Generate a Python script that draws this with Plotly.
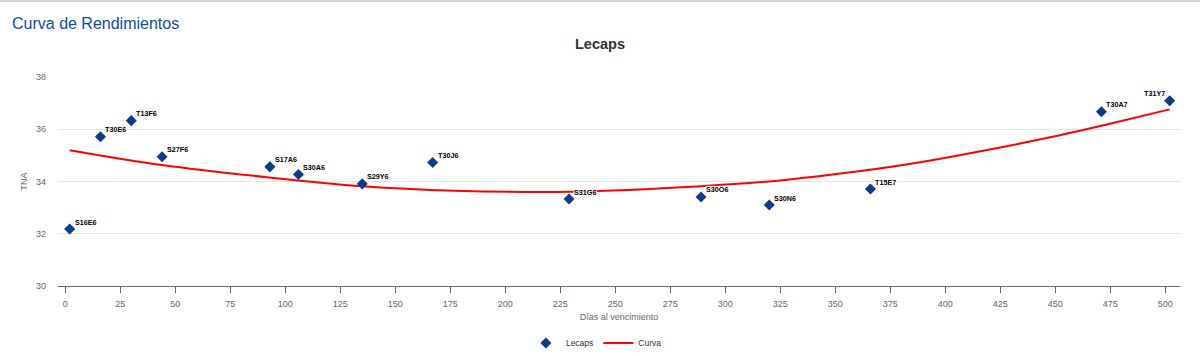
import plotly.graph_objects as go

# Lecaps data (days to maturity, TNA %)
tickers = ["S16E6", "T30E6", "T13F6", "S27F6", "S17A6", "S30A6", "S29Y6", "T30J6",
           "S31G6", "S30O6", "S30N6", "T15E7", "T30A7", "T31Y7"]
dias = [2, 16, 30, 44, 93, 106, 135, 167, 229, 289, 320, 366, 471, 502]
tna = [32.18, 35.71, 36.33, 34.95, 34.56, 34.27, 33.91, 34.73, 33.33, 33.41, 33.10, 33.71, 36.67, 37.09]
label_side = ["right"] * 13 + ["left"]

# Fitted curve
curva_x = [2, 44, 92, 135, 177, 230, 289, 326, 357, 380, 401, 425, 451, 472, 502]
curva_y = [35.20, 34.63, 34.16, 33.82, 33.65, 33.61, 33.82, 34.05, 34.35, 34.62, 34.92, 35.30, 35.75, 36.15, 36.76]

x_ticks = list(range(0, 501, 25))
y_ticks = [30, 32, 34, 36, 38]

W, H = 1200, 356
L, R, T, B = 58, 20, 77, 70
pw, ph = W - L - R, H - T - B
FONT = "Liberation Sans, Arial, sans-serif"

def px_x(p):
    return (p - L) / pw

def px_y(p):
    return (H - B - p) / ph

fig = go.Figure()

fig.add_trace(go.Scatter(
    x=curva_x, y=curva_y, mode="lines", name="Curva",
    line=dict(color="#ff0000", width=2, shape="spline", smoothing=1.0),
    hoverinfo="skip",
))

fig.add_trace(go.Scatter(
    x=dias, y=tna, mode="markers", name="Lecaps",
    marker=dict(symbol="diamond", size=8.5, color="#0b3c8c"),
))

halo = "1px 1px 1px #fff, -1px -1px 1px #fff, 1px -1px 1px #fff, -1px 1px 1px #fff"
annotations = []
for t, xv, yv, side in zip(tickers, dias, tna, label_side):
    annotations.append(dict(
        text=t, x=xv, y=yv, xref="x", yref="y", showarrow=False,
        xanchor="left" if side == "right" else "right", yanchor="middle",
        xshift=3 if side == "right" else -3, yshift=7,
        font=dict(family=FONT, size=7.2, color="#000000", weight="bold", shadow=halo),
    ))

annotations.append(dict(text="Curva de Rendimientos", xref="paper", yref="paper",
                        x=px_x(10), y=px_y(24), xanchor="left", yanchor="middle",
                        showarrow=False,
                        font=dict(family=FONT, size=16, color="#0e4c9e")))

fig.update_layout(
    width=W, height=H,
    margin=dict(l=L, r=R, t=T, b=B),
    paper_bgcolor="#ffffff", plot_bgcolor="#ffffff",
    font=dict(family=FONT, size=9, color="#666666"),
    title=dict(text="<b>Lecaps</b>", x=0.5, xanchor="center", xref="container",
               y=1 - 44 / H, yanchor="middle", yref="container",
               font=dict(size=14.5, color="#333333")),
    showlegend=True,
    legend=dict(orientation="h", x=0.497, xanchor="center", xref="container",
                y=1 - 343 / H, yanchor="middle", yref="container",
                font=dict(size=8.5, color="#333333"), traceorder="reversed"),
    xaxis=dict(range=[-3.3, 506.7], tickvals=x_ticks, showgrid=False, zeroline=False,
               automargin=False,
               showline=True, linecolor="#666666", linewidth=1,
               ticks="outside", ticklen=6, tickcolor="#666666",
               ticklabelstandoff=3,
               tickfont=dict(size=9, color="#666666"),
               title=dict(text="Días al vencimiento", standoff=5,
                          font=dict(size=9, color="#666666"))),
    yaxis=dict(range=[30, 38], tickvals=y_ticks, showgrid=True, gridcolor="#e6e6e6",
               automargin=False,
               zeroline=False, showline=False, ticks="", ticklabelstandoff=11,
               tickfont=dict(size=9, color="#666666"),
               title=dict(text="TNA", standoff=6, font=dict(size=9, color="#666666"))),
    annotations=annotations,
    shapes=[dict(type="line", xref="paper", yref="paper", x0=px_x(0), x1=px_x(W),
                 y0=px_y(1), y1=px_y(1), line=dict(color="#d6d6d6", width=2))],
)

fig.write_html("out.html", config={"displayModeBar": False},
               post_script="document.body.style.margin='0';")
